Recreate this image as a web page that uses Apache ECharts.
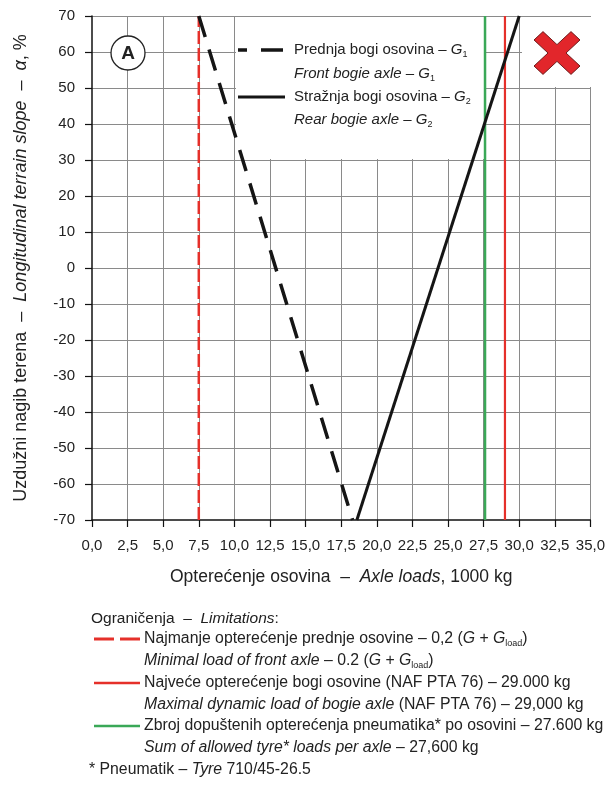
<!DOCTYPE html>
<html><head><meta charset="utf-8">
<script src="https://cdn.jsdelivr.net/npm/echarts@6/dist/echarts.min.js"></script>
<style>html,body{margin:0;padding:0;background:#fff}#c{width:608px;height:793px}</style>
</head><body><div id="c"></div>
<script>
// ---- data ----
const xMin = 0, xMax = 35, xStep = 2.5;
const yMin = -70, yMax = 70, yStep = 10;
const frontBogieAxle = [[7.5, 70], [18.3, -70]];   // G1 (dashed)
const rearBogieAxle  = [[18.6, -70], [30.0, 70]];  // G2 (solid)
const minFrontLoad   = [[7.5, -70], [7.5, 70]];    // red dashed limit
const maxBogieLoad   = [[29.0, -70], [29.0, 70]];  // red solid limit
const tyreLoadSum    = [[27.6, -70], [27.6, 70]];  // green limit

const FONT = '"Liberation Sans Narrow","Arial Narrow","Liberation Sans",sans-serif';
const TXT = '#222';
const RED = '#e5302a', GREEN = '#3aa857', BLACK = '#151515', GRID = '#8a8a8a';

const chart = echarts.init(document.getElementById('c'), null, {renderer: 'canvas'});

function rich(size) {
  return {
    i: {fontStyle: 'italic', fontSize: size, fontFamily: FONT, lineHeight: 18, fill: TXT},
    s: {fontSize: 9, fontFamily: FONT, lineHeight: 8, verticalAlign: 'bottom', fill: TXT}
  };
}
function txt(x, y, text, size) {
  size = size || 15;
  return {type: 'text', z: 5, style: {x: x, y: y, text: text, fontSize: size, fontFamily: FONT, fill: TXT,
    lineHeight: 18, verticalAlign: 'middle', align: 'left', rich: rich(size)}};
}
function seg(x1, y1, x2, y2, color, w, dash, off) {
  const st = {stroke: color, lineWidth: w};
  if (dash) { st.lineDash = dash; st.lineDashOffset = off || 0; }
  return {type: 'line', z: 5, shape: {x1: x1, y1: y1, x2: x2, y2: y2}, style: st};
}
// X mark polygon
const cx = 557, cy = 53, s = 23, a = 9;
const xPts = [[-s, -s + a], [-s + a, -s], [0, -a], [s - a, -s], [s, -s + a], [a, 0], [s, s - a], [s - a, s], [0, a], [-s + a, s], [-s, s - a], [-a, 0]]
  .map(p => [cx + p[0], cy + p[1] * 0.93]);

const graphics = [
  {type: 'rect', z: 1, shape: {x: 236, y: 17, width: 248, height: 142}, style: {fill: '#fff'}},
  {type: 'rect', z: 1, shape: {x: 522, y: 17, width: 69, height: 70}, style: {fill: '#fff'}},
  {type: 'polygon', z: 5, shape: {points: xPts}, style: {fill: '#e2262b', stroke: '#6e1c1c', lineWidth: 1}},
  {type: 'circle', z: 5, shape: {cx: 128, cy: 53, r: 17}, style: {fill: '#fff', stroke: '#222', lineWidth: 1.3}},
  {type: 'text', z: 6, style: {x: 128, y: 54, text: 'A', fontSize: 19, fontWeight: 'bold', fontFamily: FONT, fill: '#222', align: 'center', verticalAlign: 'middle'}},
  seg(238, 50, 285, 50, BLACK, 3.5, [22, 14], 13),
  seg(238, 97, 285, 97, BLACK, 3),
  txt(294, 50, 'Prednja bogi osovina – {i|G}{s|1}'),
  txt(294, 74, '{i|Front bogie axle – G}{s|1}'),
  txt(294, 97, 'Stražnja bogi osovina – {i|G}{s|2}'),
  txt(294, 120, '{i|Rear bogie axle – G}{s|2}'),
  // bottom legend
  txt(91, 619, 'Ograničenja  –  {i|Limitations}:', 15.5),
  seg(94, 639, 140, 639, RED, 3, [20, 6], 0),
  txt(144, 639, 'Najmanje opterećenje prednje osovine – 0,2 ({i|G} + {i|G}{s|load})', 15.8),
  txt(144, 661, '{i|Minimal load of front axle} – 0.2 ({i|G} + {i|G}{s|load})', 15.8),
  seg(94, 683, 140, 683, RED, 2.5),
  txt(144, 683, 'Najveće opterećenje bogi osovine (NAF PTA 76) – 29.000 kg', 15.8),
  txt(144, 705, '{i|Maximal dynamic load of bogie axle} (NAF PTA 76) – 29,000 kg', 15.8),
  seg(94, 726, 140, 726, GREEN, 2.5),
  txt(144, 726, 'Zbroj dopuštenih opterećenja pneumatika* po osovini – 27.600 kg', 15.8),
  txt(144, 748, '{i|Sum of allowed tyre* loads per axle} – 27,600 kg', 15.8),
  txt(89, 770, '* Pneumatik – {i|Tyre} 710/45-26.5', 15.8)
];

chart.setOption({
  animation: false,
  backgroundColor: '#fff',
  grid: {left: 92, top: 16, width: 500, height: 504, containLabel: false},
  xAxis: {
    type: 'value', min: xMin, max: xMax, interval: xStep,
    axisLine: {show: true, onZero: false, lineStyle: {color: '#111', width: 1.5}},
    axisTick: {show: true, length: 7, lineStyle: {color: '#111', width: 1.2}},
    axisLabel: {margin: 18, fontSize: 15, fontFamily: FONT, color: TXT, showMinLabel: true, showMaxLabel: true,
      formatter: v => v.toFixed(1).replace('.', ',')},
    splitLine: {show: true, showMinLine: false, lineStyle: {color: GRID, width: 1}},
    name: 'Opterećenje osovina  –  {i|Axle loads}, 1000 kg',
    nameLocation: 'middle', nameGap: 48,
    nameTextStyle: {fontSize: 17.5, fontFamily: FONT, color: TXT,
      rich: {i: {fontStyle: 'italic', fontSize: 17.5, fontFamily: FONT, color: TXT}}}
  },
  yAxis: {
    type: 'value', min: yMin, max: yMax, interval: yStep,
    axisLine: {show: true, onZero: false, lineStyle: {color: '#111', width: 1.5}},
    axisTick: {show: true, length: 7, lineStyle: {color: '#111', width: 1.2}},
    axisLabel: {margin: 17, fontSize: 15, fontFamily: FONT, color: TXT, showMinLabel: true, showMaxLabel: true},
    splitLine: {show: true, showMinLine: false, lineStyle: {color: GRID, width: 1}},
    name: 'Uzdužni nagib terena  –  {i|Longitudinal terrain slope}  –  {i|α}, %',
    nameLocation: 'middle', nameGap: 62, nameRotate: 90,
    nameTextStyle: {fontSize: 18, fontFamily: FONT, color: TXT,
      rich: {i: {fontStyle: 'italic', fontSize: 18, fontFamily: FONT, color: TXT}}}
  },
  series: [
    {type: 'line', data: tyreLoadSum, symbol: 'none', lineStyle: {color: GREEN, width: 2.5}, z: 2},
    {type: 'line', data: maxBogieLoad, symbol: 'none', lineStyle: {color: RED, width: 2.2}, z: 2},
    {type: 'line', data: minFrontLoad, symbol: 'none', lineStyle: {color: RED, width: 2.5, type: [13, 4]}, z: 2},
    {type: 'line', data: frontBogieAxle, symbol: 'none', lineStyle: {color: BLACK, width: 3.5, type: [22, 13]}, z: 3},
    {type: 'line', data: rearBogieAxle, symbol: 'none', lineStyle: {color: BLACK, width: 3}, z: 3}
  ],
  graphic: graphics
});
</script>
</body></html>
